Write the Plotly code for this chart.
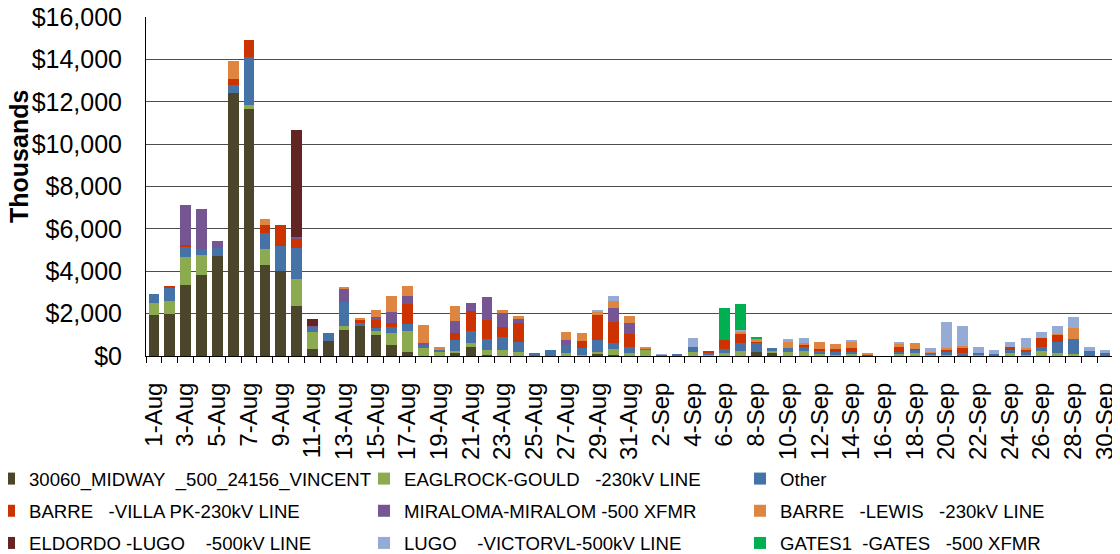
import plotly.graph_objects as go

dates = [f"{d}-Aug" for d in range(1, 32)] + [f"{d}-Sep" for d in range(1, 31)]

# values in $ thousands (axis units), Aug 1 .. Sep 30
midway = [1950, 1980, 3360, 3840, 4700, 12410, 11650, 4310, 4030, 2370, 350, 690, 1210, 1400, 1000, 520,
          200, 0, 0, 160, 410, 60, 0, 0, 0, 0, 0, 0, 80, 60, 0,
          0, 0, 0, 0, 0, 0, 0, 200, 120, 0, 0, 0, 0, 0, 0,
          0, 0, 0, 0, 0, 0, 0, 0, 0, 0, 0, 0, 0, 0, 0]
eaglrock = [530, 630, 1310, 940, 0, 0, 190, 740, 0, 1260, 780, 0, 190, 0, 180, 580,
            980, 390, 200, 80, 190, 220, 270, 170, 0, 0, 140, 60, 130, 270, 160,
            310, 0, 0, 200, 60, 130, 240, 0, 100, 200, 240, 80, 60, 90, 0,
            0, 130, 160, 40, 30, 0, 60, 0, 160, 60, 240, 160, 80, 0, 20]
other = [460, 630, 460, 250, 380, 370, 2250, 740, 1170, 1480, 250, 410, 1160, 140, 150, 250,
         310, 170, 100, 500, 590, 510, 610, 470, 160, 270, 360, 330, 550, 270, 250,
         50, 80, 90, 240, 110, 200, 390, 430, 170, 170, 170, 140, 120, 110, 0,
         0, 80, 130, 120, 170, 160, 100, 100, 170, 120, 170, 500, 710, 240, 120]
barre_villa = [0, 60, 120, 0, 0, 300, 820, 400, 990, 420, 0, 0, 0, 160, 390, 220,
               960, 0, 0, 360, 950, 920, 500, 900, 0, 0, 0, 320, 1160, 1020, 640,
               0, 0, 0, 0, 80, 420, 390, 30, 0, 0, 140, 100, 150, 180, 60,
               0, 200, 50, 0, 110, 240, 0, 0, 80, 130, 420, 360, 0, 0, 0]
miraloma = [0, 0, 1860, 1920, 330, 0, 0, 0, 0, 80, 40, 0, 620, 0, 130, 520,
            360, 60, 0, 570, 340, 1070, 650, 250, 0, 0, 250, 0, 0, 640, 520,
            0, 0, 0, 0, 0, 0, 0, 0, 0, 0, 0, 0, 0, 0, 0,
            0, 0, 0, 0, 0, 0, 0, 0, 0, 0, 0, 0, 0, 0, 0]
barre_lewis = [0, 0, 0, 0, 0, 850, 0, 260, 0, 0, 0, 0, 70, 90, 310, 740,
               480, 850, 120, 670, 0, 0, 120, 80, 0, 0, 380, 370, 160, 320, 300,
               60, 0, 0, 0, 0, 0, 130, 170, 0, 270, 80, 330, 240, 300, 80,
               0, 160, 270, 50, 90, 90, 0, 0, 0, 50, 0, 20, 550, 0, 0]
eldordo = [0, 0, 0, 0, 0, 0, 0, 0, 0, 5050, 310, 0, 0, 0, 0, 0,
           0, 0, 0, 0, 0, 0, 0, 0, 0, 0, 0, 0, 0, 0, 0,
           0, 0, 0, 0, 0, 0, 0, 0, 0, 0, 0, 0, 0, 0, 0,
           0, 0, 0, 0, 0, 0, 0, 0, 0, 0, 0, 0, 0, 0, 0]
lugo = [0, 0, 0, 0, 0, 0, 0, 0, 0, 0, 0, 0, 0, 0, 0, 0,
        0, 0, 0, 0, 0, 0, 0, 0, 0, 0, 0, 0, 110, 270, 0,
        0, 10, 0, 420, 0, 0, 80, 0, 0, 150, 230, 0, 0, 70, 0,
        0, 90, 0, 150, 1210, 930, 260, 170, 230, 500, 290, 390, 500, 180, 130]
gates = [0] * 36 + [1500, 1240, 80] + [0] * 22

NB = "\u00a0"
# (name, values, colour, legend column)
series = [
    ("30060_MIDWAY" + NB * 2 + "_500_24156_VINCENT", midway, "#4B4529", "legend"),
    ("EAGLROCK-GOULD" + NB * 3 + "-230kV LINE", eaglrock, "#8CAA4F", "legend2"),
    ("Other", other, "#4572A7", "legend3"),
    ("BARRE" + NB * 3 + "-VILLA PK-230kV LINE", barre_villa, "#CC3300", "legend"),
    ("MIRALOMA-MIRALOM" + NB + "-500 XFMR", miraloma, "#765692", "legend2"),
    ("BARRE" + NB * 3 + "-LEWIS" + NB * 3 + "-230kV LINE", barre_lewis, "#DF8542", "legend3"),
    ("ELDORDO" + NB + "-LUGO" + NB * 4 + "-500kV LINE", eldordo, "#632524", "legend"),
    ("LUGO" + NB * 4 + "-VICTORVL-500kV LINE", lugo, "#95ABD6", "legend2"),
    ("GATES1" + NB * 2 + "-GATES" + NB * 3 + "-500 XFMR", gates, "#00B050", "legend3"),
]

xpos = list(range(len(dates)))
fig = go.Figure()
for i, (name, vals, color, lg) in enumerate(series):
    fig.add_trace(go.Bar(x=xpos, y=vals, name=name, marker=dict(color=color, line=dict(width=0)),
                         legend=lg, legendgroup=f"g{i}"))

FONT = "Liberation Sans, Arial, sans-serif"
# page body adds an 8px offset, so the figure is laid out in (screen - 8) coordinates
W, H = 1112, 546
L, R, T, B = 138, 7, 9, 198
PW, PH = W - L - R, H - T - B

legend_common = dict(orientation="v", xref="paper", yref="container", xanchor="left",
                      yanchor="middle", y=(H - 503) / H,
                      font=dict(family=FONT, size=18.6, color="black"), bgcolor="rgba(0,0,0,0)",
                      traceorder="grouped", tracegroupgap=5, itemwidth=30)

fig.update_layout(
    width=W, height=H,
    margin=dict(l=L, r=R, t=T, b=B, autoexpand=False),
    barmode="stack", bargap=0.33,
    plot_bgcolor="white", paper_bgcolor="white",
    font=dict(family=FONT, color="black"),
    legend=dict(legend_common, x=(-19 - L) / PW),
    legend2=dict(legend_common, x=(356 - L) / PW),
    legend3=dict(legend_common, x=(732 - L) / PW),
    xaxis=dict(
        range=[-0.5, len(dates) - 0.5], automargin=False,
        tickmode="array", tickvals=xpos[::2], ticktext=dates[::2],
        tickangle=-90, ticks="", tickfont=dict(size=24, family=FONT),
        ticklabelstandoff=16, ticklabeloverflow="allow",
        showline=True, linecolor="black", linewidth=1, showgrid=False, zeroline=False,
        minor=dict(tickmode="array", tickvals=[i - 0.5 for i in range(len(dates) + 1)],
                   ticks="outside", ticklen=6, tickcolor="black", tickwidth=1, showgrid=False),
    ),
    yaxis=dict(
        range=[0, 16000], tickmode="linear", tick0=0, dtick=2000, automargin=False,
        tickprefix="$", tickformat=",.0f", tickfont=dict(size=25, family=FONT),
        ticks="", ticklabelstandoff=18, ticklabeloverflow="allow",
        showline=True, linecolor="black", linewidth=1,
        showgrid=True, gridcolor="#4d4d4d", gridwidth=1, zeroline=False,
    ),
    annotations=[dict(text="<b>Thousands</b>", textangle=-90, xref="paper", yref="paper",
                      x=(11 - L) / PW, y=(PH + T - 148) / PH,
                      xanchor="center", yanchor="middle", showarrow=False,
                      font=dict(size=25, family=FONT, color="black"))],
)

fig.write_html("out.html")
